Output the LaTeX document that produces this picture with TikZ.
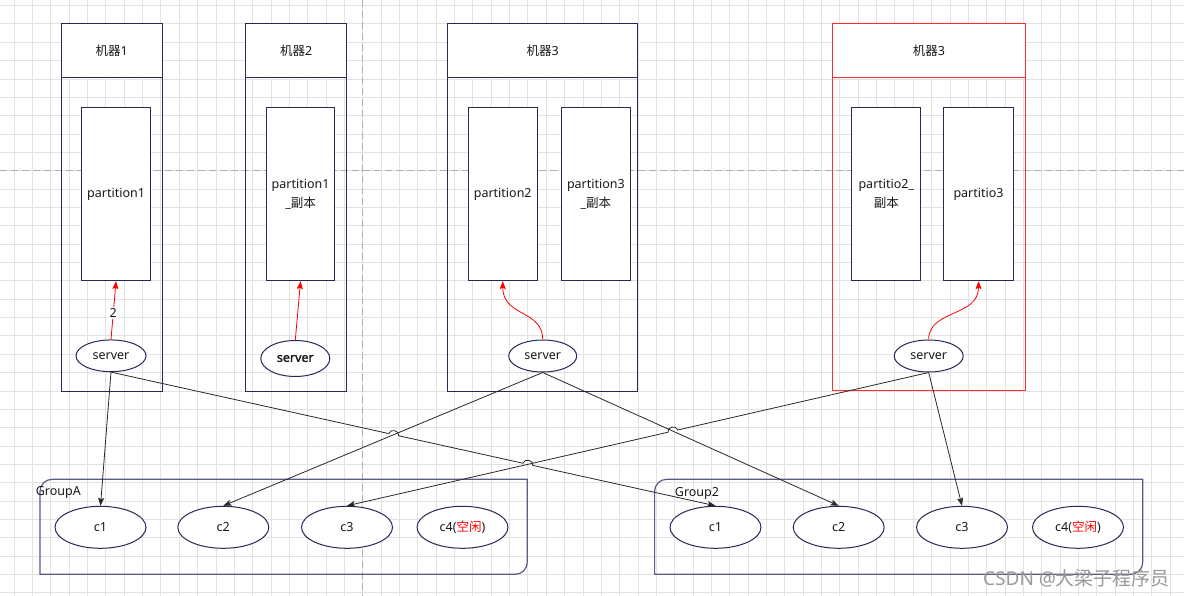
\documentclass[tikz,border=0pt]{standalone}
\usepackage{fontspec}
\setmainfont{Noto Sans}
\newfontfamily\cjk{Noto Sans CJK SC}
\newfontfamily\srvbold[FakeBold=1.6]{Noto Sans}
\usetikzlibrary{arrows.meta,calc,intersections,shapes.geometric}
\definecolor{navy}{RGB}{38,42,84}
\definecolor{gbox}{RGB}{88,92,128}
\definecolor{gridc}{RGB}{226,226,226}
\definecolor{dashc}{RGB}{175,175,175}
\definecolor{lred}{RGB}{255,45,45}
\definecolor{connc}{RGB}{40,40,40}
\begin{document}
\begin{tikzpicture}[x=1pt,y=-1pt,font=\fontsize{12.5}{19}\selectfont,
  every node/.style={text=black!90,inner sep=0pt},
  machine/.style={draw=navy,line width=1.1pt,anchor=north west,minimum height=368pt},
  header/.style={draw=navy,fill=white,line width=1.1pt,anchor=north west,minimum height=54.6pt},
  part/.style={draw=navy,fill=white,line width=1.1pt,minimum width=69pt,minimum height=172.7pt,align=center,anchor=north west},
  srv/.style={ellipse,draw=navy,fill=white,line width=1pt,minimum width=69pt,minimum height=32pt},
  cli/.style={ellipse,draw=navy,fill=white,line width=1pt,minimum width=91pt,minimum height=42pt},
  grp/.style={draw=gbox,line width=1.2pt},
  conn/.style={draw=connc,line width=0.8pt,-{Stealth[length=8pt,width=6pt,inset=1.5pt]}},
  redarr/.style={draw=red,line width=0.8pt,-{Stealth[length=8pt,width=6pt,inset=1.5pt]}}
]
\useasboundingbox (0,0) rectangle (1184,596);
\fill[white] (0,0) rectangle (1184,596);
% grid
\foreach \i in {0,...,63} \draw[gridc,line width=0.8pt] ({14.05+\i*18.35},0) -- ({14.05+\i*18.35},596);
\foreach \j in {0,...,32} \draw[gridc,line width=0.8pt] (0,{5.55+\j*18.35}) -- (1184,{5.55+\j*18.35});
\draw[dashc,dash pattern=on 7pt off 4pt,line width=0.9pt] (0,170.7) -- (1184,170.7);
\draw[dashc,dash pattern=on 7pt off 4pt,line width=0.9pt] (362.7,0) -- (362.7,596);

% machines
\node[machine,minimum width=101pt] (m1) at (60.7,22.7) {};
\node[header,minimum width=101pt] (m1h) at (60.7,22.7) {{\cjk 机器}1};
\node[machine,minimum width=100.7pt] (m2) at (245.3,22.7) {};
\node[header,minimum width=100.7pt] (m2h) at (245.3,22.7) {{\cjk 机器}2};
\node[machine,minimum width=189.7pt] (m3) at (447.3,22.7) {};
\node[header,minimum width=189.7pt] (m3h) at (447.3,22.7) {{\cjk 机器}3};
\node[machine,draw=lred,minimum width=193.6pt,minimum height=366.8pt] (m4) at (831.7,22.7) {};
\node[header,draw=lred,minimum width=193.6pt] (m4h) at (831.7,22.7) {{\cjk 机器}3};

% partitions
\node[part] (p1) at (81,107.3) {partition1};
\node[part,minimum width=68.6pt] (p1r) at (265.7,107.3) {partition1\\\_{\cjk 副本}};
\node[part] (p2) at (467.7,107.3) {partition2};
\node[part,minimum width=69.3pt] (p3r) at (560.7,107.3) {partition3\\\_{\cjk 副本}};
\node[part] (p2r) at (851.3,107.3) {partitio2\_\\{\cjk 副本}};
\node[part,minimum width=69.4pt] (p3) at (943.3,107.3) {partitio3};

% servers
\node[srv,minimum width=70pt,minimum height=31.7pt] (s1) at (111,355.8) {server};
\node[srv,minimum height=36pt] (s2) at (295.3,358.5) {{\srvbold server}};
\node[srv,minimum width=68pt] (s3) at (542.7,356) {server};
\node[srv] (s4) at (928.7,356) {server};

% groups
\draw[grp] (40,574.3) -- (40,491.3) .. controls (40,484.7) and (45.4,479.3) .. (52,479.3) -- (527.3,479.3) -- (527.3,562.3) .. controls (527.3,568.9) and (521.9,574.3) .. (515.3,574.3) -- cycle;
\draw[grp] (654.6,574.3) -- (654.6,491.3) .. controls (654.6,484.7) and (660,479.3) .. (666.6,479.3) -- (1142.7,479.3) -- (1142.7,562.3) .. controls (1142.7,568.9) and (1137.3,574.3) .. (1130.7,574.3) -- cycle;
\node[anchor=west] (ga) at (35.7,492.3) {GroupA};
\node[anchor=west] (gb) at (674.7,493.5) {Group2};

% clients
\node[cli] (a1) at (100.5,527.3) {c1};
\node[cli] (a2) at (223.3,527.3) {c2};
\node[cli] (a3) at (347,527.3) {c3};
\node[cli] (a4) at (462.5,527.3) {c4({\cjk\color{red}空闲})};
\node[cli] (b1) at (715.5,527.3) {c1};
\node[cli] (b2) at (838.7,527.3) {c2};
\node[cli] (b3) at (962,527.3) {c3};
\node[cli] (b4) at (1078,527.3) {c4({\cjk\color{red}空闲})};

% red arrows
\draw[redarr] (s1.north) -- node[pos=0.45,fill=white,inner sep=1.5pt] {2} (p1.south);
\draw[redarr] (s2.north) -- (p1r.south);
\draw[redarr] (s3.north) .. controls +(0,-30) and +(0,36) .. (p2.south);
\draw[redarr] (s4.north) .. controls +(0,-30) and +(0,36) .. (p3.south);

% connectors
\path[name path=l2] (s1.south) -- (b1.north);
\path[name path=l3] (s3.south) -- (a2.north);
\path[name path=l4] (s3.south) -- (b2.north);
\path[name path=l5] (s4.south) -- (a3.north);
\path[name intersections={of=l2 and l3,by=X1}];
\path[name intersections={of=l2 and l5,by=X2}];
\path[name intersections={of=l4 and l5,by=X3}];

\draw[conn] (s1.south) -- (a1.north);
\draw[conn] (s1.south) -- ($(X1)!5pt!(s1.south)$) to[bend left=90,looseness=1.4] ($(X1)!5pt!(b1.north)$)
   -- ($(X2)!5pt!(s1.south)$) to[bend left=90,looseness=1.4] ($(X2)!5pt!(b1.north)$) -- (b1.north);
\draw[conn] (s3.south) -- (a2.north);
\draw[conn] (s3.south) -- (b2.north);
\draw[conn] (s4.south) -- ($(X3)!5pt!(s4.south)$) to[bend right=90,looseness=1.4] ($(X3)!5pt!(a3.north)$) -- (a3.north);
\draw[conn] (s4.south) -- (b3.north);

% watermark
\node[anchor=west,text=black!40,font=\fontsize{19}{19}\selectfont] (wm) at (983,578) {CSDN @{\cjk 大梁子程序员}};
\end{tikzpicture}
\end{document}
